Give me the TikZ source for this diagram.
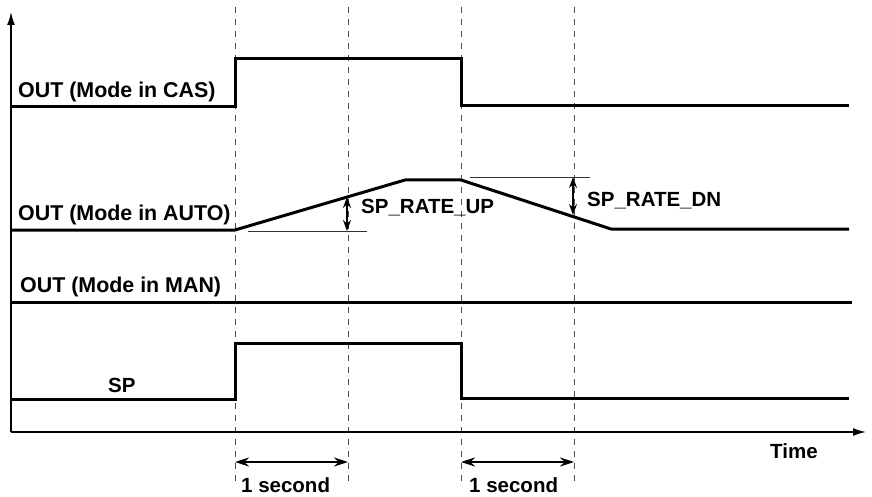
\documentclass[tikz,border=0pt]{standalone}
\usepackage{fontspec}
\setmainfont{Liberation Sans}
\usetikzlibrary{arrows.meta}
\begin{document}
\begin{tikzpicture}[x=1pt,y=-1pt,
  sig/.style={line width=3pt,line join=miter,line cap=butt},
  axis/.style={line width=1.6pt,-{Latex[length=13pt,width=8pt]}},
  guide/.style={draw=black!70,line width=0.9pt,dash pattern=on 6pt off 6pt},
  refl/.style={line width=0.8pt,draw=black!80},
  dimarr/.style={line width=1.5pt,{Stealth[length=14pt,width=9pt]}-{Stealth[length=14pt,width=9pt]}},
  ratearr/.style={line width=1.5pt,{Stealth[length=11pt,width=8pt]}-{Stealth[length=11pt,width=8pt]}},
  lbl/.style={font=\fontsize{20.5}{24}\selectfont\bfseries,inner sep=0pt},
  outlbl/.style={font=\fontsize{21.4}{24}\selectfont\bfseries,inner sep=0pt}]
\useasboundingbox (0,0) rectangle (872,497);
% guide lines
\foreach \n/\x in {g1/235,g2/348,g3/461,g4/574}{
  \coordinate (\n t) at (\x,7);
  \coordinate (\n b) at (\x,486);
  \draw[guide] (\n t) -- (\n b);
}
% axes
\coordinate (O) at (11,432);
\coordinate (Ytip) at (11,12);
\coordinate (Xtip) at (866,432);
\draw[axis] (O) -- (Ytip);
\draw[axis] (O) -- (Xtip);
% CAS
\coordinate (c0) at (11,107);
\coordinate (c1) at (235,107);
\coordinate (c2) at (235,59);
\coordinate (c3) at (461,59);
\coordinate (c4) at (461,106);
\coordinate (c5) at (849,106);
\draw[sig] (c0) -- (c1) -- (c2) -- (c3) -- (c4) -- (c5);
% AUTO
\coordinate (a0) at (11,230);
\coordinate (a1) at (235,230);
\coordinate (a2) at (405,180);
\coordinate (a3) at (461,180);
\coordinate (a4) at (611,229);
\coordinate (a5) at (849,229);
\draw[sig,line join=round] (a0) -- (a1) -- (a2) -- (a3) -- (a4) -- (a5);
% MAN
\coordinate (m0) at (11,302);
\coordinate (m1) at (852,302);
\draw[sig] (m0) -- (m1);
% SP
\coordinate (s0) at (11,399);
\coordinate (s1) at (235,399);
\coordinate (s2) at (235,343);
\coordinate (s3) at (461,343);
\coordinate (s4) at (461,398);
\coordinate (s5) at (849,398);
\draw[sig] (s0) -- (s1) -- (s2) -- (s3) -- (s4) -- (s5);
% reference lines
\coordinate (r1a) at (248,231);
\coordinate (r1b) at (367,231);
\coordinate (r2a) at (470,177);
\coordinate (r2b) at (590,177);
\draw[refl] (r1a) -- (r1b);
\draw[refl] (r2a) -- (r2b);
% rate arrows
\coordinate (u1) at (347,197);
\coordinate (u2) at (347,231);
\coordinate (d1) at (573,177);
\coordinate (d2) at (573,215);
\draw[ratearr] (u1) -- (u2);
\draw[ratearr] (d1) -- (d2);
% dimension arrows
\coordinate (k1) at (235,462);
\coordinate (k2) at (348,462);
\coordinate (k3) at (461,462);
\coordinate (k4) at (574,462);
\draw[dimarr] (k1) -- (k2);
\draw[dimarr] (k3) -- (k4);
% labels
\node[outlbl,anchor=base west] (lcas) at (18,98) {OUT (Mode in CAS)};
\node[outlbl,anchor=base west] (lauto) at (18,220) {OUT (Mode in AUTO)};
\node[outlbl,anchor=base west] (lman) at (20,292) {OUT (Mode in MAN)};
\node[lbl,anchor=base west] (lsp) at (108,392) {SP};
\node[lbl,anchor=base west] (lup) at (361,213) {SP\_RATE\_UP};
\node[lbl,anchor=base west] (ldn) at (587,206) {SP\_RATE\_DN};
\node[lbl,anchor=base west] (ltime) at (770,458) {Time};
\node[lbl,anchor=base west] (ls1) at (241,492) {1 second};
\node[lbl,anchor=base west] (ls2) at (469,492) {1 second};
\end{tikzpicture}
\end{document}
